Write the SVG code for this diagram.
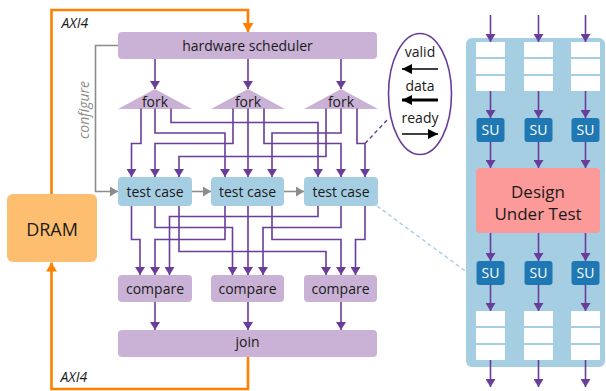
<svg xmlns="http://www.w3.org/2000/svg" width="606" height="391" viewBox="0 0 606 391">
  <style>
    text { font-family: "Open Sans", "Noto Sans", "Liberation Sans", sans-serif; fill: #1a1a1a; }
    .lbl { font-size: 14px; text-anchor: middle; }
    .ital { font-style: italic; font-size: 14px; }
    .sched { fill: #cab2d6; }
    .tc { fill: #a6cee3; }
    .su { fill: #1f78b4; }
    .su-t { fill: #ffffff; font-size: 14px; text-anchor: middle; }
    .fifo { fill: #ffffff; }
    .wire { fill: none; stroke: #6a3d9a; stroke-width: 1.6; }
    .wa { marker-end: url(#arrP); }
    .gray { fill: none; stroke: #8c8c8c; stroke-width: 1.6; marker-end: url(#arrG); }
    .axi { fill: none; stroke: #ff7f00; stroke-width: 2.6; marker-end: url(#arrO); }
  </style>
  <defs>
    <marker id="arrP" viewBox="0 0 8 10" refX="8" refY="5" markerWidth="8" markerHeight="10" markerUnits="userSpaceOnUse" orient="auto">
      <path d="M0,0 L8,5 L0,10 z" fill="#6a3d9a"/>
    </marker>
    <marker id="arrG" viewBox="0 0 8 10" refX="8" refY="5" markerWidth="8" markerHeight="10" markerUnits="userSpaceOnUse" orient="auto">
      <path d="M0,0 L8,5 L0,10 z" fill="#8c8c8c"/>
    </marker>
    <marker id="arrO" viewBox="0 0 9 11" refX="9" refY="5.5" markerWidth="9" markerHeight="11" markerUnits="userSpaceOnUse" orient="auto">
      <path d="M0,0 L9,5.5 L0,11 z" fill="#ff7f00"/>
    </marker>
    <marker id="arrK" viewBox="0 0 10 10" refX="10" refY="5" markerWidth="10" markerHeight="10" markerUnits="userSpaceOnUse" orient="auto">
      <path d="M0,0 L10,5 L0,10 z" fill="#000000"/>
    </marker>
  </defs>

  <!-- main pipeline nodes -->
  <g id="scheduler">
    <rect class="sched" x="118" y="32" width="259" height="27" rx="4"/>
    <text class="lbl" x="247.5" y="50.5">hardware scheduler</text>
  </g>
  <g id="fork1">
    <polygon class="sched" points="155,89 118,109 192,109"/>
    <text class="lbl" x="155" y="107">fork</text>
  </g>
  <g id="fork2">
    <polygon class="sched" points="248,89 211,109 285,109"/>
    <text class="lbl" x="248" y="107">fork</text>
  </g>
  <g id="fork3">
    <polygon class="sched" points="341,89 304,109 378,109"/>
    <text class="lbl" x="341" y="107">fork</text>
  </g>
  <g id="testcase1">
    <rect class="tc" x="118" y="177" width="74" height="29" rx="4"/>
    <text class="lbl" x="155" y="197">test case</text>
  </g>
  <g id="testcase2">
    <rect class="tc" x="211" y="177" width="73" height="29" rx="4"/>
    <text class="lbl" x="247.5" y="197">test case</text>
  </g>
  <g id="testcase3">
    <rect class="tc" x="304" y="177" width="74" height="29" rx="4"/>
    <text class="lbl" x="341" y="197">test case</text>
  </g>
  <g id="compare1">
    <rect class="sched" x="118" y="275" width="74" height="27" rx="4"/>
    <text class="lbl" x="155" y="293.5">compare</text>
  </g>
  <g id="compare2">
    <rect class="sched" x="211" y="275" width="73" height="27" rx="4"/>
    <text class="lbl" x="247.5" y="293.5">compare</text>
  </g>
  <g id="compare3">
    <rect class="sched" x="304" y="275" width="73" height="27" rx="4"/>
    <text class="lbl" x="340.5" y="293.5">compare</text>
  </g>
  <g id="join">
    <rect class="sched" x="118" y="330" width="259" height="27" rx="4"/>
    <text class="lbl" x="247.5" y="346.5">join</text>
  </g>
  <g id="dram">
    <rect x="7" y="194" width="90" height="68" rx="6" fill="#fdbf6f"/>
    <text x="52" y="236" font-size="18" text-anchor="middle">DRAM</text>
  </g>

  <!-- handshake legend -->
  <g id="handshake">
    <ellipse cx="420" cy="94" rx="31.5" ry="60.5" fill="#ffffff" stroke="#6a3d9a" stroke-width="1.6"/>
    <text class="lbl" x="420" y="57">valid</text>
    <text class="lbl" x="420" y="91">data</text>
    <text class="lbl" x="420" y="123">ready</text>
    <path d="M438,69 H402" stroke="#000" stroke-width="1.5" marker-end="url(#arrK)"/>
    <path d="M438,100 H402" stroke="#000" stroke-width="3" marker-end="url(#arrK)"/>
    <path d="M402,134 H438" stroke="#000" stroke-width="1.5" marker-end="url(#arrK)"/>
  </g>

  <!-- test harness around the design -->
  <g id="harness">
    <rect x="466" y="38" width="139" height="329" rx="6" fill="#a6cee3"/>
  </g>
  <g id="fifo-in">
    <rect class="fifo" x="476" y="42" width="29" height="15"/>
    <rect class="fifo" x="476" y="59" width="29" height="15"/>
    <rect class="fifo" x="476" y="76" width="29" height="15"/>
    <rect class="fifo" x="524" y="42" width="29" height="15"/>
    <rect class="fifo" x="524" y="59" width="29" height="15"/>
    <rect class="fifo" x="524" y="76" width="29" height="15"/>
    <rect class="fifo" x="571" y="42" width="29" height="15"/>
    <rect class="fifo" x="571" y="59" width="29" height="15"/>
    <rect class="fifo" x="571" y="76" width="29" height="15"/>
  </g>
  <g id="su-in">
    <rect class="su" x="476.5" y="118" width="28" height="24" rx="3"/>
    <text class="su-t" x="490.5" y="135">SU</text>
    <rect class="su" x="524.5" y="118" width="28" height="24" rx="3"/>
    <text class="su-t" x="538.5" y="135">SU</text>
    <rect class="su" x="571.5" y="118" width="28" height="24" rx="3"/>
    <text class="su-t" x="585.5" y="135">SU</text>
  </g>
  <g id="dut">
    <rect x="476" y="168" width="124" height="65" rx="4" fill="#fb9a99"/>
    <text x="538" y="198" font-size="17" text-anchor="middle">Design</text>
    <text x="538" y="220" font-size="17" text-anchor="middle">Under Test</text>
  </g>
  <g id="su-out">
    <rect class="su" x="476.5" y="261" width="28" height="24" rx="3"/>
    <text class="su-t" x="490.5" y="278">SU</text>
    <rect class="su" x="524.5" y="261" width="28" height="24" rx="3"/>
    <text class="su-t" x="538.5" y="278">SU</text>
    <rect class="su" x="571.5" y="261" width="28" height="24" rx="3"/>
    <text class="su-t" x="585.5" y="278">SU</text>
  </g>
  <g id="fifo-out">
    <rect class="fifo" x="476" y="311" width="29" height="15"/>
    <rect class="fifo" x="476" y="328" width="29" height="15"/>
    <rect class="fifo" x="476" y="345" width="29" height="15"/>
    <rect class="fifo" x="524" y="311" width="29" height="15"/>
    <rect class="fifo" x="524" y="328" width="29" height="15"/>
    <rect class="fifo" x="524" y="345" width="29" height="15"/>
    <rect class="fifo" x="571" y="311" width="29" height="15"/>
    <rect class="fifo" x="571" y="328" width="29" height="15"/>
    <rect class="fifo" x="571" y="345" width="29" height="15"/>
  </g>

  <!-- labels on the memory and configuration paths -->
  <text class="ital" x="61.5" y="28">AXI4</text>
  <text class="ital" x="60.5" y="381.5">AXI4</text>
  <text class="ital" x="0" y="0" style="fill:#8c8c8c" text-anchor="middle" transform="translate(89,110) rotate(-90)">configure</text>

  <g id="connectors">
    <!-- AXI4 links to DRAM -->
    <path class="axi" d="M51.5,194 V10 H248 V32"/>
    <path class="axi" d="M248,357 V389 H51.5 V262.5"/>
    <!-- configuration and chaining -->
    <path class="gray" d="M118,45.5 H95.5 V191.5 H118"/>
    <path class="gray" d="M192,191.5 H211"/>
    <path class="gray" d="M284,191.5 H304"/>
    <!-- scheduler to forks -->
    <path class="wire wa" d="M155,59 V89"/>
    <path class="wire wa" d="M248,59 V89"/>
    <path class="wire wa" d="M341,59 V89"/>
    <!-- forks to test cases -->
    <path class="wire wa" d="M141,108.5 V143.5 H131.5 V177"/>
    <path class="wire wa" d="M155,108.5 V133 H225 V177"/>
    <path class="wire wa" d="M171,108.5 V122.5 H318 V177"/>
    <path class="wire wa" d="M233,108.5 V143.5 H155 V177"/>
    <path class="wire wa" d="M248,108.5 V177"/>
    <path class="wire wa" d="M264,108.5 V143.5 H341 V177"/>
    <path class="wire wa" d="M326,108.5 V156.5 H179 V177"/>
    <path class="wire wa" d="M341,108.5 V133 H272 V177"/>
    <path class="wire wa" d="M357,108.5 V143.5 H365 V177"/>
    <!-- test cases to comparators -->
    <path class="wire wa" d="M131.5,206 V239.5 H140 V275"/>
    <path class="wire wa" d="M155,206 V227.5 H232.5 V275"/>
    <path class="wire wa" d="M179,206 V251.5 H326 V275"/>
    <path class="wire wa" d="M225,206 V239.5 H155 V275"/>
    <path class="wire wa" d="M248,206 V275"/>
    <path class="wire wa" d="M272,206 V239.5 H341 V275"/>
    <path class="wire wa" d="M318,206 V216.5 H169.5 V275"/>
    <path class="wire wa" d="M341,206 V227.5 H263 V275"/>
    <path class="wire wa" d="M365,206 V239.5 H355.5 V275"/>
    <!-- comparators to join -->
    <path class="wire wa" d="M155,302 V330"/>
    <path class="wire wa" d="M248,302 V330"/>
    <path class="wire wa" d="M341,302 V330"/>
    <!-- zoom-in callouts -->
    <path d="M365,143.5 L388.5,118.5" fill="none" stroke="#6a3d9a" stroke-width="1.4" stroke-dasharray="4,3"/>
    <path d="M377,206 L466,271.5" fill="none" stroke="#a6cee3" stroke-width="1.4" stroke-dasharray="4,3"/>
    <!-- lanes through the design under test -->
    <path class="wire wa" d="M490.5,15 V42"/>
    <path class="wire wa" d="M538.5,15 V42"/>
    <path class="wire wa" d="M585.5,15 V42"/>
    <path class="wire wa" d="M490.5,91 V118"/>
    <path class="wire wa" d="M538.5,91 V118"/>
    <path class="wire wa" d="M585.5,91 V118"/>
    <path class="wire wa" d="M490.5,142 V168"/>
    <path class="wire wa" d="M538.5,142 V168"/>
    <path class="wire wa" d="M585.5,142 V168"/>
    <path class="wire wa" d="M490.5,233 V261"/>
    <path class="wire wa" d="M538.5,233 V261"/>
    <path class="wire wa" d="M585.5,233 V261"/>
    <path class="wire wa" d="M490.5,285 V311"/>
    <path class="wire wa" d="M538.5,285 V311"/>
    <path class="wire wa" d="M585.5,285 V311"/>
    <path class="wire wa" d="M490.5,360 V387"/>
    <path class="wire wa" d="M538.5,360 V387"/>
    <path class="wire wa" d="M585.5,360 V387"/>
  </g>
</svg>
